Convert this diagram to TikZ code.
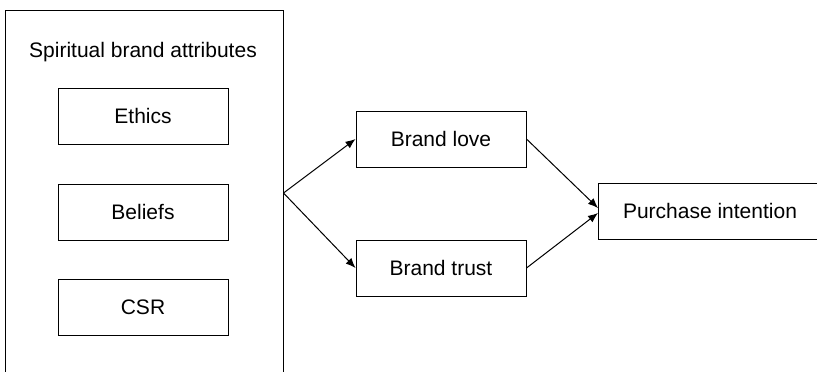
\documentclass[tikz,border=0pt]{standalone}
\usepackage{fontspec}
\setmainfont{Liberation Sans}
\usetikzlibrary{arrows.meta}

\tikzset{
    box/.style={draw, line width=1pt, minimum height=56pt, align=center},
    link/.style={line width=1pt, -{Latex[length=10pt,width=8pt]}}
}

\begin{document}
\begin{tikzpicture}[x=1pt, y=1pt, font=\fontsize{21}{25}\selectfont]
            \useasboundingbox (0,0) rectangle (817,-372);
            % spiritual attributes group
            \node[draw, line width=1pt, minimum width=278pt, minimum height=370pt] (attrs) at (144,-195) {};
            \node (title) at (143,-52) {Spiritual brand attributes};
            \node[box, minimum width=170pt] (ethics) at (143,-116) {Ethics};
            \node[box, minimum width=170pt] (beliefs) at (143,-212) {Beliefs};
            \node[box, minimum width=170pt] (csr) at (143,-307) {CSR};

            % mediators and outcome
            \node[box, minimum width=170pt] (love) at (441,-139) {Brand love};
            \node[box, minimum width=170pt] (trust) at (441,-268) {Brand trust};
            \node[box, minimum width=223pt] (purchase) at (710,-211) {Purchase intention};

            \coordinate (split) at (attrs.east |- 0,-193);
            \draw[link] (split) -- (love.west);
            \draw[link] (split) -- (trust.west);
            \draw[link] (love.east) -- ([yshift=3pt]purchase.west);
            \draw[link] (trust.east) -- ([yshift=-2pt]purchase.west);
        \end{tikzpicture}
\end{document}
